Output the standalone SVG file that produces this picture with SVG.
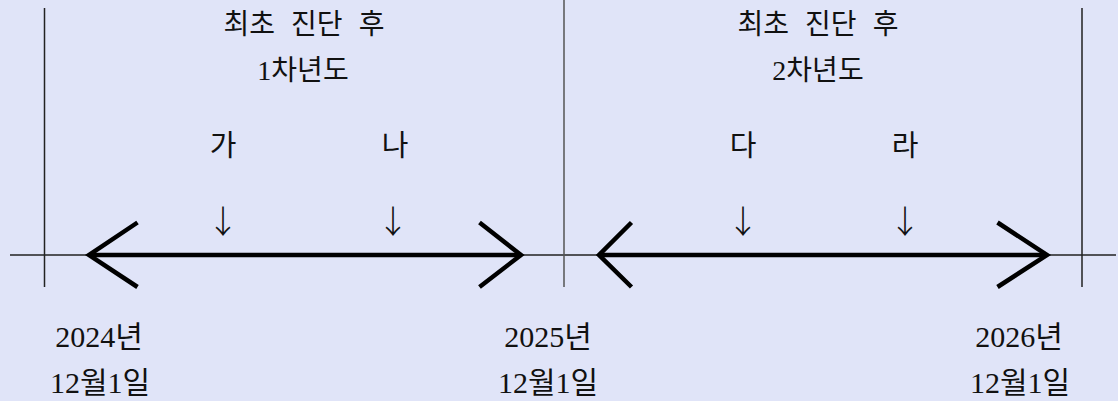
<svg xmlns="http://www.w3.org/2000/svg" width="1118" height="401" viewBox="0 0 1118 401">
<style>
.t{font-family:"Liberation Serif","Noto Sans CJK KR",serif;fill:#111;text-anchor:middle}
.h{font-size:28px;word-spacing:9px}
.l{font-size:29px}
.y{font-size:30px}
.d{font-family:"Noto Sans CJK KR","DejaVu Sans",sans-serif;font-size:32px;font-weight:300}
.thin{stroke:#222;stroke-width:1.5;fill:none}
.thick{stroke:#000;stroke-width:4.5;fill:none;stroke-linecap:butt;stroke-linejoin:miter}
</style>
<rect width="1118" height="401" fill="#e0e4f8"/>
<g id="connectors">
<line class="thin" x1="10" y1="255" x2="1116" y2="255"/>
<line class="thin" x1="44.5" y1="8" x2="44.5" y2="287"/>
<line class="thin" x1="564" y1="0" x2="564" y2="287" style="stroke:#555"/>
<line class="thin" x1="1082" y1="8" x2="1082" y2="287"/>
<line class="thick" x1="90" y1="255" x2="520" y2="255"/>
<polyline class="thick" points="137.5,222.5 89,255 137.5,287"/>
<polyline class="thick" points="479.5,222.5 521,255 479.5,287"/>
<line class="thick" x1="600" y1="255" x2="1046" y2="255"/>
<polyline class="thick" points="631.5,222.5 599,255 631.5,287"/>
<polyline class="thick" points="997.5,222.5 1047,255 997.5,287"/>
</g>
<g id="year1">
<text class="t h" x="304" y="34">최초 진단 후</text>
<text class="t h" x="303" y="80">1차년도</text>
</g>
<g id="year2">
<text class="t h" x="818" y="34">최초 진단 후</text>
<text class="t h" x="818" y="80">2차년도</text>
</g>
<g id="ga"><text class="t l" x="223" y="156">가</text><text class="t d" x="223" y="233">↓</text></g>
<g id="na"><text class="t l" x="395" y="156">나</text><text class="t d" x="393" y="233">↓</text></g>
<g id="da"><text class="t l" x="743" y="156">다</text><text class="t d" x="743" y="233">↓</text></g>
<g id="ra"><text class="t l" x="905" y="156">라</text><text class="t d" x="905" y="233">↓</text></g>
<g id="d2024"><text class="t y" x="99" y="347">2024년</text><text class="t y" x="100" y="393">12월1일</text></g>
<g id="d2025"><text class="t y" x="548" y="347">2025년</text><text class="t y" x="548" y="393">12월1일</text></g>
<g id="d2026"><text class="t y" x="1019" y="347">2026년</text><text class="t y" x="1020" y="393">12월1일</text></g>
</svg>
